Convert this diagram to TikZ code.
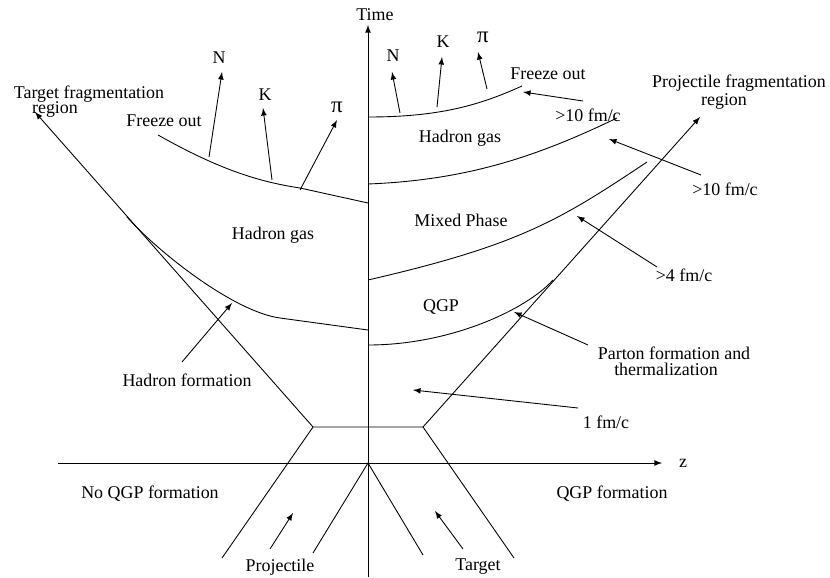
\documentclass[tikz,border=0pt]{standalone}
\usepackage{fontspec}
\setmainfont{Liberation Serif}
\begin{document}
\begin{tikzpicture}[x=0.02cm, y=-0.02cm,
        every node/.style={font=\fontsize{10.2}{12}\selectfont, inner sep=0pt},
        every path/.style={line width=0.5pt}, >=latex]
      \useasboundingbox (0,0) rectangle (830,577);

      % Axes
      \coordinate (O) at (368,463);
      \coordinate (tbot) at (368,577);
      \coordinate (ttop) at (368,25);
      \coordinate (zl) at (58,463);
      \coordinate (zr) at (662,463);
      \draw[->] (tbot) -- (ttop);
      \draw[->] (zl) -- (zr);
      \node (time) at (375,15) {Time};
      \node (z) at (683,463) {z};

      % Incoming nuclei
      \coordinate (pl) at (313,427);
      \coordinate (pr) at (423,427);
      \coordinate (pl0) at (222,558);
      \coordinate (pr0) at (514,558);
      \coordinate (ol) at (313,553);
      \coordinate (or) at (423,555);
      \draw (pl0) -- (pl) -- (pr) -- (pr0);
      \draw (ol) -- (O) -- (or);

      % Fragmentation regions
      \coordinate (tf) at (35,112);
      \coordinate (pf) at (700,117);
      \draw[->] (pl) -- (tf);
      \draw[->] (pr) -- (pf);

      % Phase boundaries
      \draw (368,330) -- (280,318) .. controls (235,312) and (160,254) .. (127,217);
      \draw (158,135) .. controls (220,170) and (260,182) .. (300,188) -- (368,203);
      \draw (368,345) .. controls (450,345) and (526,310) .. (553,280);
      \draw (368,280) .. controls (520,245) and (560,220) .. (647,162);
      \draw (368,184) .. controls (470,180) and (540,155) .. (617,118);
      \draw (368,117) .. controls (440,117) and (480,105) .. (522,86);

      % Emitted particles
      \node (NL) at (219,58) {N};
      \node (KL) at (265,95) {K};
      \node[font=\fontsize{13}{14}\selectfont] (piL) at (337,107) {π};
      \node (NR) at (393,56) {N};
      \node (KR) at (443,42) {K};
      \node[font=\fontsize{13}{14}\selectfont] (piR) at (483,37) {π};
      \coordinate (NLa) at (209,157); \coordinate (NLb) at (222,72);
      \coordinate (KLa) at (272,180); \coordinate (KLb) at (263,108);
      \coordinate (piLa) at (300,190); \coordinate (piLb) at (337,120);
      \coordinate (NRa) at (400,113); \coordinate (NRb) at (392,72);
      \coordinate (KRa) at (437,107); \coordinate (KRb) at (442,57);
      \coordinate (piRa) at (487,89); \coordinate (piRb) at (478,52);
      \foreach \p in {NL,KL,piL,NR,KR,piR}
        \draw[->] (\p a) -- (\p b);

      % Region labels
      \node (tfrag) at (89,94) {Target fragmentation};
      \node (tfreg) at (55,110) {region};
      \node (pfrag) at (739,83) {Projectile fragmentation};
      \node (pfreg) at (724,102) {region};
      \node (freezeL) at (164,121) {Freeze out};
      \node (freezeR) at (548,74) {Freeze out};
      \node (hgasL) at (273,235) {Hadron gas};
      \node (hgasR) at (460,138) {Hadron gas};
      \node (mixed) at (461,220) {Mixed Phase};
      \node (qgp) at (441,307) {QGP};
      \node (noqgpf) at (150,494) {No QGP formation};
      \node (qgpf) at (612,494) {QGP formation};

      % Times and formation labels
      \node (t10a) at (588,115) {>10 fm/c};
      \node (t10b) at (725,189) {>10 fm/c};
      \node (t4) at (684,275) {>4 fm/c};
      \node (parton) at (674,353) {Parton formation and};
      \node (therm) at (666,369) {thermalization};
      \node (t1) at (606,422) {1 fm/c};
      \node (hform) at (187,380) {Hadron formation};
      \node (proj) at (280,567) {Projectile};
      \node (targ) at (478,567) {Target};
      \coordinate (t10aa) at (583,101); \coordinate (t10ab) at (523,92);
      \coordinate (t10ba) at (701,175); \coordinate (t10bb) at (609,139);
      \coordinate (t4a) at (657,267); \coordinate (t4b) at (577,216);
      \coordinate (partona) at (588,345); \coordinate (partonb) at (514,312);
      \coordinate (t1a) at (578,408); \coordinate (t1b) at (413,390);
      \coordinate (hforma) at (182,362); \coordinate (hformb) at (232,303);
      \coordinate (proja) at (270,549); \coordinate (projb) at (293,513);
      \coordinate (targa) at (463,549); \coordinate (targb) at (435,511);
      \foreach \p in {t10a,t10b,t4,parton,t1,hform,proj,targ}
        \draw[->] (\p a) -- (\p b);
    \end{tikzpicture}
\end{document}
